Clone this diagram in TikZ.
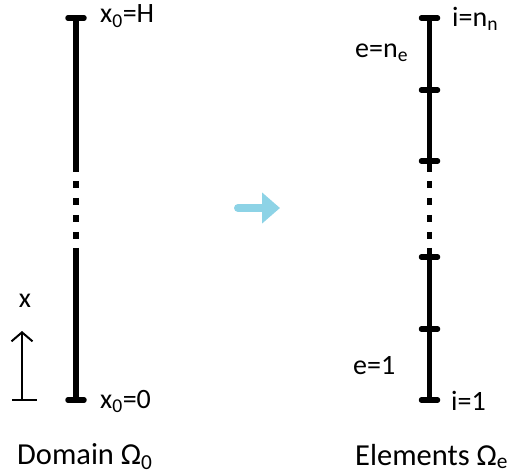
\documentclass[tikz,border=0pt]{standalone}
\usepackage{fontspec}
\setmainfont{Carlito}
\usetikzlibrary{arrows.meta}
\definecolor{mapblue}{RGB}{141,211,230}

\begin{document}
\begin{tikzpicture}[x=1pt,y=-1pt,
  bar/.style={line width=5.5pt},
  dots/.style={line width=5.5pt,dash pattern=on 7pt off 10pt},
  tickmark/.style={line width=5.5pt,line cap=round},
  lab/.style={inner sep=0pt,anchor=base west,font=\fontsize{28}{33}\selectfont},
  caption/.style={inner sep=0pt,anchor=base west,font=\fontsize{30.5}{36}\selectfont}]
  \useasboundingbox (0,0) rectangle (512,476);
  % domain
  \coordinate (dtop) at (76,18); \coordinate (dbot) at (76,400);
  \draw[bar] (dtop) -- (76,172); \draw[dots] (76,181) -- (76,240); \draw[bar] (76,248) -- (dbot);
  \draw[tickmark] ([xshift=-8pt]dtop) -- ([xshift=8pt]dtop);
  \draw[tickmark] ([xshift=-8pt]dbot) -- ([xshift=8pt]dbot);
  \node[lab] (xH) at (100,23) {x\textsubscript{0}=H};
  \node[lab] (x0) at (100,408) {x\textsubscript{0}=0};
  \node[caption] (dom) at (17,464) {Domain Ω\textsubscript{0}};
  % x axis
  \coordinate (abot) at (22,400); \coordinate (atop) at (22,331);
  \draw[line width=2pt,-{Straight Barb[length=9pt,width=21pt]}] (abot) -- (atop);
  \draw[line width=2pt] (12,400) -- (37,400);
  \node[lab,anchor=base] (xlab) at (25,308) {x};
  % map
  \coordinate (mfrom) at (238,208); \coordinate (mto) at (280,208);
  \draw[mapblue,line width=8pt,line cap=round,-{Triangle[length=18pt,width=30pt]}] (mfrom) -- (mto);
  % elements
  \coordinate (etop) at (429.5,18); \coordinate (ebot) at (429.5,400);
  \draw[bar] (etop) -- (429.5,172); \draw[dots] (429.5,181) -- (429.5,240); \draw[bar] (429.5,248) -- (ebot);
  \foreach \y in {18,90,161,257,329,400}
    \draw[tickmark] (421.5,\y) -- (437.5,\y);
  \node[lab] (inn) at (452,27) {i=n\textsubscript{n}};
  \node[lab] (ene) at (355,58) {e=n\textsubscript{e}};
  \node[lab] (e1) at (353,374) {e=1};
  \node[lab] (i1) at (451,410) {i=1};
  \node[caption] (elem) at (355,465) {Elements Ω\textsubscript{e}};
\end{tikzpicture}
\end{document}
